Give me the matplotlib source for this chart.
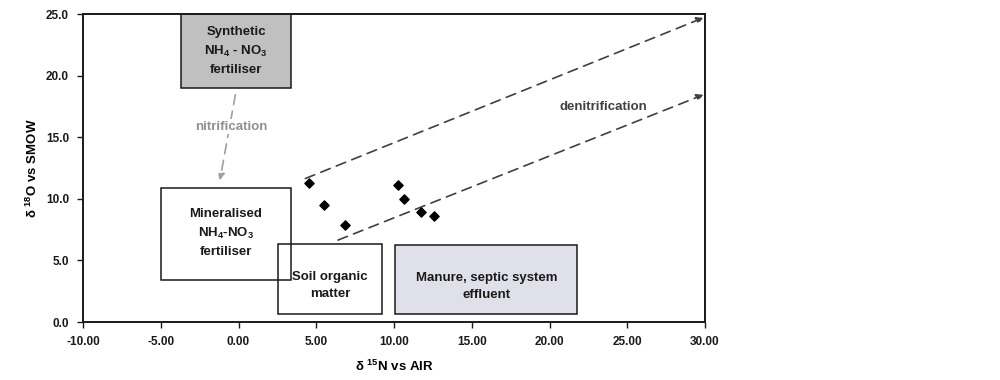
import matplotlib
matplotlib.use("Agg")
import matplotlib.pyplot as plt
from matplotlib.patches import Rectangle

plt.rcParams['font.family'] = ['Liberation Sans', 'DejaVu Sans']
plt.rcParams['mathtext.fontset'] = 'custom'
plt.rcParams['mathtext.rm'] = 'Liberation Sans'
plt.rcParams['mathtext.bf'] = 'Liberation Sans:bold'

# Sample data (delta 15N, delta 18O)
d15N = [4.55, 5.48, 6.87, 10.24, 10.66, 11.74, 12.59]
d18O = [11.26, 9.50, 7.87, 11.12, 9.96, 8.95, 8.60]

# Source boxes: (x0, x1, y0, y1)
box_names = ["Synthetic\nNH$_\\mathbf{4}$ - NO$_\\mathbf{3}$\nfertiliser",
             "Mineralised\nNH$_\\mathbf{4}$-NO$_\\mathbf{3}$\nfertiliser",
             "Soil organic\nmatter",
             "Manure, septic system\neffluent"]
box_x0 = [-3.7, -5.0, 2.55, 10.05]
box_x1 = [3.4, 3.4, 9.25, 21.8]
box_y0 = [19.0, 3.4, 0.65, 0.62]
box_y1 = [25.0, 10.9, 6.33, 6.25]
box_fill = ["#c0c0c0", "white", "none", "#e0e0ea"]
box_text_xy = [(-0.15, 22.0), (-0.8, 7.2), (5.9, 3.0), (15.95, 2.85)]

# Process arrows: (x_start, y_start, x_end, y_end)
denit_start = [(4.3, 11.65), (6.4, 6.65)]
denit_end = [(29.9, 24.7), (29.9, 18.45)]
nitri_start = (-0.2, 18.45)
nitri_end = (-1.2, 11.5)

x_ticks = [-10, -5, 0, 5, 10, 15, 20, 25, 30]
y_ticks = [0, 5, 10, 15, 20, 25]

fig = plt.figure(figsize=(10, 3.8), dpi=100)
ax = fig.add_axes([0.083, 0.1526, 0.622, 0.8104])

for i, name in enumerate(box_names):
    fc = box_fill[i]
    ax.add_patch(Rectangle((box_x0[i], box_y0[i]), box_x1[i] - box_x0[i],
                           box_y1[i] - box_y0[i], facecolor=fc,
                           fill=(fc != "none"), edgecolor="#1a1a1a",
                           linewidth=1.1, zorder=2))
    tx, ty = box_text_xy[i]
    ax.text(tx, ty, name, ha="center", va="center", fontsize=9.5,
            fontweight="bold", color="#1a1a1a", linespacing=1.55, zorder=3)

for (xs, ys), (xe, ye) in zip(denit_start, denit_end):
    ax.annotate("", xy=(xe, ye), xytext=(xs, ys),
                arrowprops=dict(arrowstyle="-|>", color="#404040", lw=1.2,
                                linestyle=(0, (6, 4)), mutation_scale=10,
                                shrinkA=0, shrinkB=0), zorder=4)
ax.annotate("", xy=nitri_end, xytext=nitri_start,
            arrowprops=dict(arrowstyle="-|>", color="#a0a0a0", lw=1.2,
                            linestyle=(0, (6, 4)), mutation_scale=10,
                            shrinkA=0, shrinkB=0), zorder=4)
ax.text(-0.45, 15.85, "nitrification", ha="center", va="center",
        fontsize=9.5, color="#909090", fontweight="bold",
        bbox=dict(facecolor="white", edgecolor="none", pad=1), zorder=5)
ax.text(23.45, 17.45, "denitrification", ha="center", va="center",
        fontsize=9.5, color="#404040", fontweight="bold", zorder=5)

ax.scatter(d15N, d18O, marker="D", s=22, color="black", zorder=6)

ax.set_xlim(-10, 30)
ax.set_ylim(0, 25)
ax.set_xticks(x_ticks)
ax.set_yticks(y_ticks)
ax.set_xticklabels([f"{v:.2f}" for v in x_ticks], fontsize=8.5, fontweight="bold")
ax.set_yticklabels([f"{v:.1f}" for v in y_ticks], fontsize=8.5, fontweight="bold")
ax.tick_params(direction="out", length=4, width=1, pad=6, colors="#1a1a1a")
for s in ax.spines.values():
    s.set_linewidth(1.4)
    s.set_color("#1a1a1a")

ax.set_xlabel("δ $^{\\mathbf{15}}$N vs AIR", fontsize=9.5, fontweight="bold",
              labelpad=8)
ax.set_ylabel("δ $^{\\mathbf{18}}$O vs SMOW", fontsize=9.5, fontweight="bold",
              labelpad=4)

fig.savefig("out.png", dpi=100)
